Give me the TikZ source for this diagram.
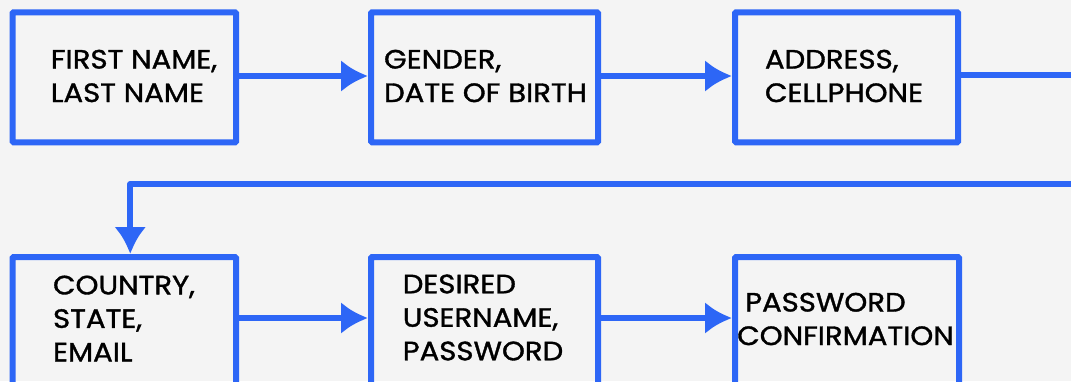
\documentclass[tikz,border=0pt]{standalone}
\usepackage{fontspec}
\setmainfont{Poppins}
\newfontfamily\boxfont{Poppins}[FakeBold=1.3,FakeStretch=1.1]
\usetikzlibrary{arrows.meta}
\definecolor{bblue}{RGB}{45,102,246}
\definecolor{bg}{RGB}{244,244,244}
\tikzset{
  box/.style={draw=bblue, line width=6pt, rounded corners=1pt, minimum height=130pt, inner sep=0pt},
  txt/.style={align=left, font=\boxfont\fontsize{26.5}{33.5}\selectfont, text=black, inner sep=0pt},
  arr/.style={draw=bblue, line width=6pt, line join=round, -{Latex[length=27pt,width=32pt]}},
  conn/.style={draw=bblue, line width=6pt, line join=round},
}
\begin{document}
\begin{tikzpicture}[x=1pt,y=-1pt]
\useasboundingbox[fill=bg] (0,0) rectangle (1071,381);
\node[box, minimum width=223.5pt] (b1) at (124.25,77.25) {};
\node[box, minimum width=227pt] (b2) at (484.5,77.25) {};
\node[box, minimum width=223pt] (b3) at (846.5,77.25) {};
\node[box, minimum width=223.5pt] (b4) at (124.25,322) {};
\node[box, minimum width=227pt] (b5) at (484.5,322) {};
\node[box, minimum width=224pt] (b6) at (847,322) {};
\node[txt] (t1) at (134,76) {FIRST NAME,\\LAST NAME};
\node[txt] (t2) at (485.5,76) {GENDER,\\DATE OF BIRTH};
\node[txt] (t3) at (844,76) {ADDRESS,\\CELLPHONE};
\node[txt] (t4) at (124,318.5) {COUNTRY,\\STATE,\\EMAIL};
\node[txt] (t5) at (483,317.5) {DESIRED\\USERNAME,\\PASSWORD};
\node[txt] (t6) at (845.5,319) {\hspace*{8pt}PASSWORD\\CONFIRMATION};
\coordinate (r1) at (1080,75);
\coordinate (r2) at (1080,184);
\draw[arr] (b1.east |- 0,76) -- (b2.west |- 0,76);
\draw[arr] (b2.east |- 0,76) -- (b3.west |- 0,76);
\draw[conn] (b3.east |- 0,75) -- (r1);
\draw[arr] (r2) -| ([xshift=6pt]b4.north);
\draw[arr] (b4.east |- 0,318) -- (b5.west |- 0,318);
\draw[arr] (b5.east |- 0,318) -- (b6.west |- 0,318);
\end{tikzpicture}
\end{document}
